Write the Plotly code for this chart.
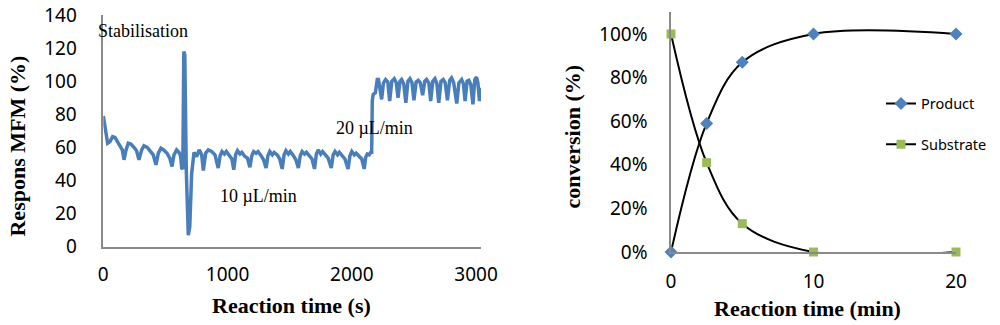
import plotly.graph_objects as go

# left panel: MFM response vs time (s)
time_s = [0, 10, 25, 35, 54, 75, 94, 113, 134, 153, 167, 183, 201, 222, 247, 268, 287, 309, 327, 354,
          381, 402, 424, 443, 464, 486, 513, 535, 553, 569, 590, 609, 622, 631,
          640, 648, 656, 668, 684, 696, 711, 730,
          751, 772, 792, 805, 824, 845, 872, 899,
          925, 940, 955, 975, 990, 1015, 1035,
          1050, 1065, 1080, 1100, 1115, 1140, 1160,
          1180, 1195, 1210, 1230, 1245, 1270, 1290,
          1310, 1325, 1340, 1360, 1375, 1400, 1420,
          1440, 1455, 1470, 1490, 1505, 1530, 1550,
          1570, 1585, 1600, 1620, 1635, 1660, 1680,
          1700, 1715, 1730, 1750, 1765, 1790, 1810,
          1835, 1850, 1865, 1885, 1900, 1925, 1945,
          1970, 1985, 2000, 2020, 2035, 2060, 2080,
          2100, 2112, 2125, 2140, 2152, 2160,
          2165, 2172, 2190, 2205,
          2215, 2240, 2255, 2272, 2290, 2305, 2322, 2342, 2358, 2372, 2388, 2401, 2418, 2435,
          2452, 2468, 2485, 2500, 2518, 2535, 2552, 2570, 2588, 2602, 2620, 2635, 2652, 2669,
          2685, 2700, 2718, 2736, 2752, 2770, 2788, 2803, 2820, 2845, 2862, 2884, 2898, 2912,
          2928, 2942, 2958, 2975, 2990, 3004, 3015, 3028, 3040]
response = [79, 74, 67, 62.5, 63.5, 66.5, 66, 63.5, 61.5, 58.5, 52.5, 58.5, 62.5, 62, 60, 58, 52.5, 58.5, 61, 60,
            57.5, 55.5, 49.5, 56.5, 59.5, 58.5, 56.5, 53.5, 48.5, 55.5, 58.5, 57, 55, 47.5,
            47, 118, 116, 46, 7, 12, 44, 57,
            54.5, 58.5, 55.5, 46, 56.5, 58.5, 57.5, 55.5,
            47.5, 55, 57.5, 56, 57.5, 55, 53,
            46.5, 55.5, 58, 56, 57, 54.5, 53.5,
            48, 55, 57.5, 56.5, 57.5, 55, 52.5,
            47.5, 55, 57.5, 55.5, 57, 55.5, 53,
            47, 55.5, 58, 56, 57.5, 55, 52.5,
            47.5, 55, 57.5, 56, 57, 54.5, 53,
            47, 56, 58.5, 56, 57.5, 55, 53.5,
            47.5, 55.5, 57.5, 55.5, 57, 55, 53,
            47, 55, 57.5, 55.5, 56.5, 54.5, 53,
            47, 54, 56, 55.5, 57, 57,
            88, 92, 93, 101,
            101, 89, 99, 101, 99.5, 88, 100, 101.5, 99, 90, 100, 101, 98.5, 87,
            100, 101.5, 99, 88.5, 99.5, 100.5, 99, 91.5, 100, 101, 99, 88, 100, 101.5,
            98.5, 87, 100, 101, 99, 88.5, 100.5, 102, 99, 86.5, 99, 101, 98.5, 88,
            100, 100.5, 98, 86, 101, 102.5, 99, 88, 96]

# right panel: conversion vs time (min)
time_min = [0, 2.5, 5, 10, 20]
product = [0, 0.59, 0.87, 1.0, 1.0]
substrate = [1.0, 0.41, 0.13, 0.0, 0.0]

tick_font = dict(family="Noto Sans", size=19, color="black")
title_font = dict(family="Liberation Serif", size=22, color="black")
note_font = dict(family="Liberation Serif", size=18, color="black")
axis_line = dict(showline=True, linecolor="#8a8a8a", linewidth=1.5, showgrid=False,
                 zeroline=False, ticks="", tickfont=tick_font, automargin=False,
                 ticklabeloverflow="allow")

fig = go.Figure()

fig.add_trace(go.Scatter(x=time_s, y=response, mode="lines",
                         line=dict(color="#4a7ebb", width=3.5),
                         showlegend=False, xaxis="x", yaxis="y"))

fig.add_trace(go.Scatter(x=time_min, y=product, mode="lines+markers", name="Product",
                         line=dict(color="black", width=2, shape="spline"),
                         marker=dict(symbol="diamond", size=10, color="#4f81bd"),
                         cliponaxis=False, legendgroup="p", xaxis="x2", yaxis="y2"))
fig.add_trace(go.Scatter(x=time_min, y=substrate, mode="lines+markers", name="Substrate",
                         line=dict(color="black", width=2, shape="spline"),
                         marker=dict(symbol="square", size=9, color="#9bbb59"),
                         cliponaxis=False, legendgroup="s", xaxis="x2", yaxis="y2"))

# the page body adds an 8px margin, so positions are shifted by 8px
fig.update_layout(
    width=1000, height=325,
    margin=dict(l=0, r=0, t=0, b=0),
    paper_bgcolor="white", plot_bgcolor="white",
    xaxis=dict(domain=[0.0953, 0.473], range=[0, 3040], tickvals=[0, 1000, 2000, 3000],
               ticklabelstandoff=10, anchor="y", **axis_line),
    yaxis=dict(domain=[0.2655, 0.9785], range=[0, 140], tickvals=list(range(0, 141, 20)),
               ticklabelstandoff=21, anchor="x", **axis_line),
    xaxis2=dict(domain=[0.663, 0.948], range=[0, 20], tickvals=[0, 10, 20],
                ticklabelstandoff=11, anchor="y2", **axis_line),
    yaxis2=dict(domain=[0.2492, 0.9871], range=[0, 1.1], tickvals=[0, 0.2, 0.4, 0.6, 0.8, 1.0],
                tickformat=".0%", ticklabelstandoff=18, anchor="x2", **axis_line),
    legend=dict(x=0.873, y=0.7554, xanchor="left", yanchor="top",
                font=dict(family="Noto Sans", size=14.5, color="black"),
                traceorder="grouped", tracegroupgap=19, bgcolor="rgba(0,0,0,0)"),
    annotations=[
        dict(text="Stabilisation", x=0.088, y=0.9292, xref="paper", yref="paper",
             xanchor="left", yanchor="middle", showarrow=False, font=note_font),
        dict(text="10 µL/min", x=925, y=30.5, xref="x", yref="y", xanchor="left", yanchor="middle",
             showarrow=False, font=note_font),
        dict(text="20 µL/min", x=1855, y=71.5, xref="x", yref="y", xanchor="left", yanchor="middle",
             showarrow=False, font=note_font),
        dict(text="<b>Reaction time (s)</b>", x=0.2835, y=0.0831, xref="paper", yref="paper",
             xanchor="center", yanchor="middle", showarrow=False, font=title_font),
        dict(text="<b>Respons MFM (%)</b>", x=0.010, y=0.5738, xref="paper", yref="paper",
             xanchor="center", yanchor="middle", textangle=-90, showarrow=False, font=title_font),
        dict(text="<b>Reaction time (min)</b>", x=0.7995, y=0.0769, xref="paper", yref="paper",
             xanchor="center", yanchor="middle", showarrow=False, font=title_font),
        dict(text="<b>conversion (%)</b>", x=0.565, y=0.6046, xref="paper", yref="paper",
             xanchor="center", yanchor="middle", textangle=-90, showarrow=False, font=title_font),
    ],
)

fig.write_html("out.html")
